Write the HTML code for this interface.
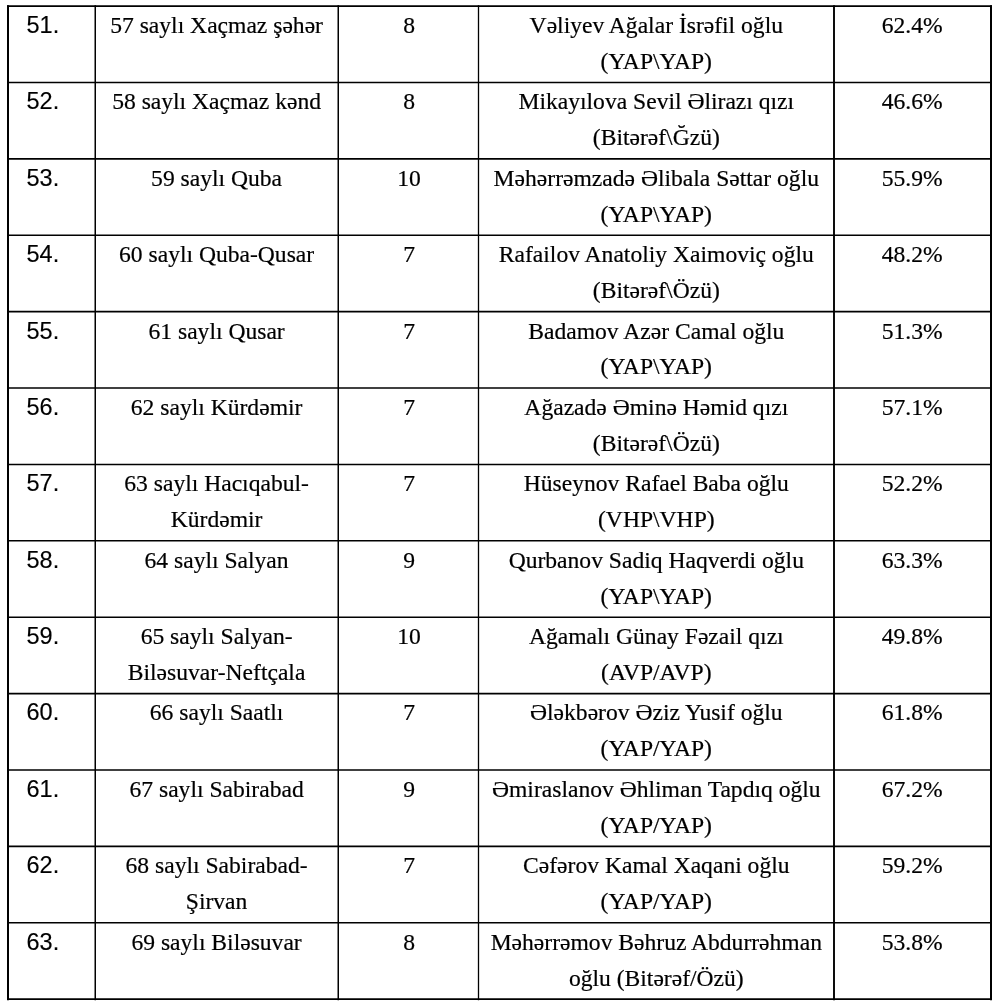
<!DOCTYPE html>
<html><head><meta charset="utf-8"><style>
html,body{margin:0;padding:0;background:#fff;}
body{width:1000px;height:1008px;position:relative;overflow:hidden;}
#w{position:absolute;left:0;top:0;width:1000px;height:1008px;background:#fff;filter:grayscale(1);}
.t{position:absolute;font-family:"Liberation Serif",serif;font-size:23.58px;color:#000;white-space:nowrap;line-height:0;-webkit-text-stroke:0.2px #000;}
.c{transform:translateX(-50%);}
.n{position:absolute;font-family:"Liberation Sans",sans-serif;font-size:23.5px;color:#000;white-space:nowrap;line-height:0;-webkit-text-stroke:0.15px #000;}
svg{position:absolute;left:0;top:0;}
</style></head><body><div id="w">

<svg width="1000" height="1008" viewBox="0 0 1000 1008">
<line x1="7.0" y1="6.15" x2="992.0" y2="6.15" stroke="#000" stroke-width="1.8"/>
<line x1="7.0" y1="82.5" x2="992.0" y2="82.5" stroke="#000" stroke-width="1.6"/>
<line x1="7.0" y1="158.89" x2="992.0" y2="158.89" stroke="#000" stroke-width="1.6"/>
<line x1="7.0" y1="235.27" x2="992.0" y2="235.27" stroke="#000" stroke-width="1.6"/>
<line x1="7.0" y1="311.66" x2="992.0" y2="311.66" stroke="#000" stroke-width="1.6"/>
<line x1="7.0" y1="388.04" x2="992.0" y2="388.04" stroke="#000" stroke-width="1.6"/>
<line x1="7.0" y1="464.43" x2="992.0" y2="464.43" stroke="#000" stroke-width="1.6"/>
<line x1="7.0" y1="540.82" x2="992.0" y2="540.82" stroke="#000" stroke-width="1.6"/>
<line x1="7.0" y1="617.2" x2="992.0" y2="617.2" stroke="#000" stroke-width="1.6"/>
<line x1="7.0" y1="693.59" x2="992.0" y2="693.59" stroke="#000" stroke-width="1.6"/>
<line x1="7.0" y1="769.97" x2="992.0" y2="769.97" stroke="#000" stroke-width="1.6"/>
<line x1="7.0" y1="846.36" x2="992.0" y2="846.36" stroke="#000" stroke-width="1.6"/>
<line x1="7.0" y1="922.75" x2="992.0" y2="922.75" stroke="#000" stroke-width="1.6"/>
<line x1="7.0" y1="999.15" x2="992.0" y2="999.15" stroke="#000" stroke-width="1.8"/>
<line x1="8.0" y1="5.15" x2="8.0" y2="1000.15" stroke="#000" stroke-width="2"/>
<line x1="95.25" y1="5.15" x2="95.25" y2="1000.15" stroke="#000" stroke-width="1.5"/>
<line x1="338.25" y1="5.15" x2="338.25" y2="1000.15" stroke="#000" stroke-width="1.5"/>
<line x1="478.5" y1="5.15" x2="478.5" y2="1000.15" stroke="#000" stroke-width="1.3"/>
<line x1="834.0" y1="5.15" x2="834.0" y2="1000.15" stroke="#000" stroke-width="1.9"/>
<line x1="991.0" y1="5.15" x2="991.0" y2="1000.15" stroke="#000" stroke-width="2"/>
</svg>
<div class="n" style="left:26.5px;top:25px">51.</div>
<div class="t c" style="left:216.6px;top:25px">57 saylı Xaçmaz şəhər</div>
<div class="t c" style="left:409.1px;top:25px">8</div>
<div class="t c" style="left:656.3px;top:25px">Vəliyev Ağalar İsrəfil oğlu</div>
<div class="t c" style="left:656.3px;top:61px">(YAP\YAP)</div>
<div class="t c" style="left:912.2px;top:25px">62.4%</div>
<div class="n" style="left:26.5px;top:101px">52.</div>
<div class="t c" style="left:216.6px;top:101px">58 saylı Xaçmaz kənd</div>
<div class="t c" style="left:409.1px;top:101px">8</div>
<div class="t c" style="left:656.3px;top:101px">Mikayılova Sevil Əlirazı qızı</div>
<div class="t c" style="left:656.3px;top:137px">(Bitərəf\Ğzü)</div>
<div class="t c" style="left:912.2px;top:101px">46.6%</div>
<div class="n" style="left:26.5px;top:178px">53.</div>
<div class="t c" style="left:216.6px;top:178px">59 saylı Quba</div>
<div class="t c" style="left:409.1px;top:178px">10</div>
<div class="t c" style="left:656.3px;top:178px">Məhərrəmzadə Əlibala Səttar oğlu</div>
<div class="t c" style="left:656.3px;top:214px">(YAP\YAP)</div>
<div class="t c" style="left:912.2px;top:178px">55.9%</div>
<div class="n" style="left:26.5px;top:254px">54.</div>
<div class="t c" style="left:216.6px;top:254px">60 saylı Quba-Qusar</div>
<div class="t c" style="left:409.1px;top:254px">7</div>
<div class="t c" style="left:656.3px;top:254px">Rafailov Anatoliy Xaimoviç oğlu</div>
<div class="t c" style="left:656.3px;top:290px">(Bitərəf\Özü)</div>
<div class="t c" style="left:912.2px;top:254px">48.2%</div>
<div class="n" style="left:26.5px;top:331px">55.</div>
<div class="t c" style="left:216.6px;top:331px">61 saylı Qusar</div>
<div class="t c" style="left:409.1px;top:331px">7</div>
<div class="t c" style="left:656.3px;top:331px">Badamov Azər Camal oğlu</div>
<div class="t c" style="left:656.3px;top:366px">(YAP\YAP)</div>
<div class="t c" style="left:912.2px;top:331px">51.3%</div>
<div class="n" style="left:26.5px;top:407px">56.</div>
<div class="t c" style="left:216.6px;top:407px">62 saylı Kürdəmir</div>
<div class="t c" style="left:409.1px;top:407px">7</div>
<div class="t c" style="left:656.3px;top:407px">Ağazadə Əminə Həmid qızı</div>
<div class="t c" style="left:656.3px;top:443px">(Bitərəf\Özü)</div>
<div class="t c" style="left:912.2px;top:407px">57.1%</div>
<div class="n" style="left:26.5px;top:483px">57.</div>
<div class="t c" style="left:216.6px;top:483px">63 saylı Hacıqabul-</div>
<div class="t c" style="left:216.6px;top:519px">Kürdəmir</div>
<div class="t c" style="left:409.1px;top:483px">7</div>
<div class="t c" style="left:656.3px;top:483px">Hüseynov Rafael Baba oğlu</div>
<div class="t c" style="left:656.3px;top:519px">(VHP\VHP)</div>
<div class="t c" style="left:912.2px;top:483px">52.2%</div>
<div class="n" style="left:26.5px;top:560px">58.</div>
<div class="t c" style="left:216.6px;top:560px">64 saylı Salyan</div>
<div class="t c" style="left:409.1px;top:560px">9</div>
<div class="t c" style="left:656.3px;top:560px">Qurbanov Sadiq Haqverdi oğlu</div>
<div class="t c" style="left:656.3px;top:596px">(YAP\YAP)</div>
<div class="t c" style="left:912.2px;top:560px">63.3%</div>
<div class="n" style="left:26.5px;top:636px">59.</div>
<div class="t c" style="left:216.6px;top:636px">65 saylı Salyan-</div>
<div class="t c" style="left:216.6px;top:672px">Biləsuvar-Neftçala</div>
<div class="t c" style="left:409.1px;top:636px">10</div>
<div class="t c" style="left:656.3px;top:636px">Ağamalı Günay Fəzail qızı</div>
<div class="t c" style="left:656.3px;top:672px">(AVP/AVP)</div>
<div class="t c" style="left:912.2px;top:636px">49.8%</div>
<div class="n" style="left:26.5px;top:712px">60.</div>
<div class="t c" style="left:216.6px;top:712px">66 saylı Saatlı</div>
<div class="t c" style="left:409.1px;top:712px">7</div>
<div class="t c" style="left:656.3px;top:712px">Ələkbərov Əziz Yusif oğlu</div>
<div class="t c" style="left:656.3px;top:748px">(YAP/YAP)</div>
<div class="t c" style="left:912.2px;top:712px">61.8%</div>
<div class="n" style="left:26.5px;top:789px">61.</div>
<div class="t c" style="left:216.6px;top:789px">67 saylı Sabirabad</div>
<div class="t c" style="left:409.1px;top:789px">9</div>
<div class="t c" style="left:656.3px;top:789px">Əmiraslanov Əhliman Tapdıq oğlu</div>
<div class="t c" style="left:656.3px;top:825px">(YAP/YAP)</div>
<div class="t c" style="left:912.2px;top:789px">67.2%</div>
<div class="n" style="left:26.5px;top:865px">62.</div>
<div class="t c" style="left:216.6px;top:865px">68 saylı Sabirabad-</div>
<div class="t c" style="left:216.6px;top:901px">Şirvan</div>
<div class="t c" style="left:409.1px;top:865px">7</div>
<div class="t c" style="left:656.3px;top:865px">Cəfərov Kamal Xaqani oğlu</div>
<div class="t c" style="left:656.3px;top:901px">(YAP/YAP)</div>
<div class="t c" style="left:912.2px;top:865px">59.2%</div>
<div class="n" style="left:26.5px;top:942px">63.</div>
<div class="t c" style="left:216.6px;top:942px">69 saylı Biləsuvar</div>
<div class="t c" style="left:409.1px;top:942px">8</div>
<div class="t c" style="left:656.3px;top:942px">Məhərrəmov Bəhruz Abdurrəhman</div>
<div class="t c" style="left:656.3px;top:978px">oğlu (Bitərəf/Özü)</div>
<div class="t c" style="left:912.2px;top:942px">53.8%</div>
</div></body></html>
